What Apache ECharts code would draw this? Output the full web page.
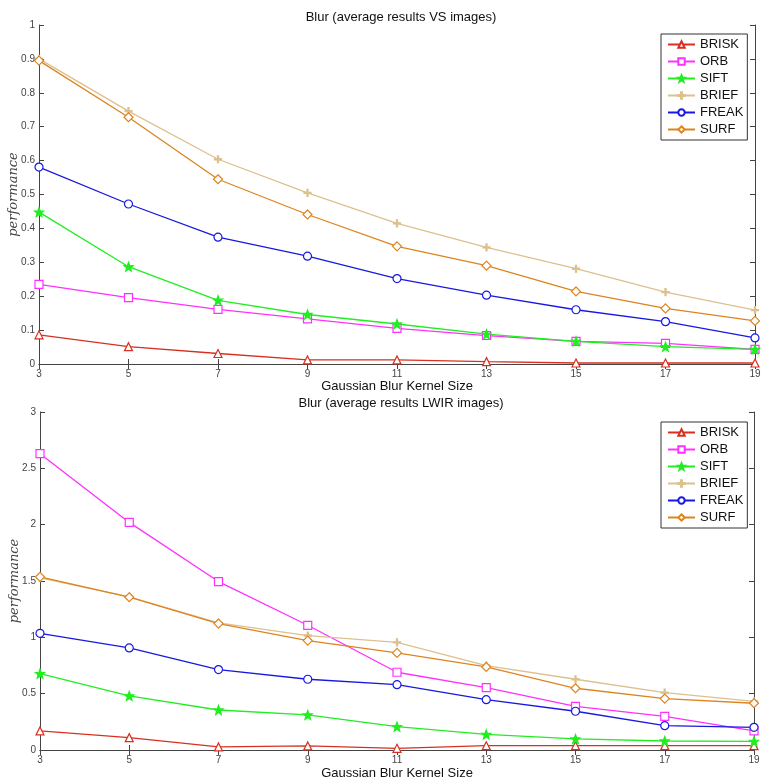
<!DOCTYPE html>
<html><head><meta charset="utf-8">
<script src="https://cdn.jsdelivr.net/npm/echarts@6/dist/echarts.min.js"></script>
<style>html,body{margin:0;padding:0;background:#fff}#c{width:768px;height:784px}</style>
</head><body><div id="c"></div>
<script>
const kernelSizes = ['3','5','7','9','11','13','15','17','19'];
const seriesNames = ['BRISK','ORB','SIFT','BRIEF','FREAK','SURF'];
// Top chart: VS images
const vsBRISK = [0.086,0.051,0.031,0.012,0.012,0.007,0.003,0.003,0.003];
const vsORB   = [0.235,0.196,0.161,0.133,0.105,0.084,0.067,0.061,0.043];
const vsSIFT  = [0.448,0.287,0.188,0.146,0.118,0.088,0.067,0.051,0.043];
const vsBRIEF = [0.900,0.746,0.604,0.505,0.415,0.344,0.281,0.212,0.159];
const vsFREAK = [0.581,0.472,0.374,0.318,0.252,0.203,0.160,0.125,0.077];
const vsSURF  = [0.895,0.728,0.545,0.441,0.347,0.290,0.214,0.164,0.127];
// Bottom chart: LWIR images
const lwBRISK = [0.169,0.110,0.027,0.036,0.015,0.038,0.038,0.038,0.038];
const lwORB   = [2.630,2.020,1.495,1.107,0.690,0.554,0.388,0.299,0.169];
const lwSIFT  = [0.678,0.480,0.355,0.311,0.207,0.139,0.098,0.080,0.077];
const lwBRIEF = [1.528,1.359,1.128,1.016,0.956,0.749,0.628,0.509,0.432];
const lwFREAK = [1.036,0.906,0.714,0.628,0.580,0.447,0.344,0.216,0.201];
const lwSURF  = [1.537,1.356,1.122,0.971,0.862,0.737,0.548,0.456,0.415];
const topTicks = ['0','0.1','0.2','0.3','0.4','0.5','0.6','0.7','0.8','0.9','1'];
const botTicks = ['0','0.5','1','1.5','2','2.5','3'];

const colors = {BRISK:'#d83020',ORB:'#ff30ff',SIFT:'#20ee20',BRIEF:'#dcc08e',FREAK:'#1818e0',SURF:'#dd8420'};
const starPath = 'path://M0,-10 L2.6,-3.2 L9.5,-3.1 L4.1,1.3 L5.9,8.1 L0,4.2 L-5.9,8.1 L-4.1,1.3 L-9.5,-3.1 L-2.6,-3.2 Z';
const plusPath = 'path://M-0.8,-5 L0.8,-5 L0.8,-0.8 L5,-0.8 L5,0.8 L0.8,0.8 L0.8,5 L-0.8,5 L-0.8,0.8 L-5,0.8 L-5,-0.8 L-0.8,-0.8 Z';
const symbols = {
  BRISK:{symbol:'triangle',size:8,fill:'#fff'},
  ORB:{symbol:'rect',size:8,fill:'#fff'},
  SIFT:{symbol:starPath,size:9,fill:colors.SIFT},
  BRIEF:{symbol:plusPath,size:7,fill:colors.BRIEF},
  FREAK:{symbol:'circle',size:8,fill:'#fff'},
  SURF:{symbol:'diamond',size:9,fill:'#fff'}
};
const topData = {BRISK:vsBRISK,ORB:vsORB,SIFT:vsSIFT,BRIEF:vsBRIEF,FREAK:vsFREAK,SURF:vsSURF};
const botData = {BRISK:lwBRISK,ORB:lwORB,SIFT:lwSIFT,BRIEF:lwBRIEF,FREAK:lwFREAK,SURF:lwSURF};

const axisCol = '#444';
const labelStyle = {color:'#444',fontSize:10,fontFamily:'Liberation Sans Narrow, Arial Narrow, Liberation Sans, sans-serif'};
function xAxes(gi){
  return [
    {type:'category',gridIndex:gi,data:kernelSizes,boundaryGap:false,position:'bottom',
     axisLine:{lineStyle:{color:axisCol}},axisTick:{inside:true,length:5,lineStyle:{color:axisCol}},
     axisLabel:Object.assign({margin:5,interval:0},labelStyle),
     name:'Gaussian Blur Kernel Size',nameLocation:'middle',nameGap:gi===0?16:17,nameMoveOverlap:false,
     nameTextStyle:{color:'#111',fontSize:13,fontFamily:'Liberation Sans, Arial, sans-serif'}},
    {type:'category',gridIndex:gi,data:kernelSizes,boundaryGap:false,position:'top',
     axisLine:{lineStyle:{color:axisCol}},axisTick:{inside:true,length:5,lineStyle:{color:axisCol}},
     axisLabel:{show:false}}
  ];
}
function yAxes(gi,max,interval,ticks){
  return [
    {type:'value',gridIndex:gi,min:0,max:max,interval:interval,position:'left',
     axisLine:{show:true,lineStyle:{color:axisCol}},axisTick:{show:true,inside:true,length:5,lineStyle:{color:axisCol}},
     splitLine:{show:false},
     axisLabel:Object.assign({margin:4,formatter:(v)=>ticks[Math.round(v/interval)]},labelStyle),
     name:'performance',nameLocation:'middle',nameGap:19,nameRotate:90,nameMoveOverlap:false,
     nameTextStyle:{color:'#444',fontSize:13,fontStyle:'italic',fontFamily:'DejaVu Serif, Liberation Serif, serif'}},
    {type:'value',gridIndex:gi,min:0,max:max,interval:interval,position:'right',
     axisLine:{show:true,lineStyle:{color:axisCol}},axisTick:{show:true,inside:true,length:5,lineStyle:{color:axisCol}},
     splitLine:{show:false},axisLabel:{show:false}}
  ];
}
function makeSeries(gi,dataMap){
  return seriesNames.map(n=>({
    type:'line',name:n,xAxisIndex:gi*2,yAxisIndex:gi*2,data:dataMap[n],
    symbol:symbols[n].symbol,symbolSize:symbols[n].size,showAllSymbol:true,
    lineStyle:{color:colors[n],width:1.3},
    itemStyle:{color:symbols[n].fill,borderColor:colors[n],borderWidth:1.2},
    animation:false
  }));
}
function legend(top){
  return {orient:'vertical',left:661,top:top,data:seriesNames,
    backgroundColor:'#fff',borderColor:'#333',borderWidth:1,padding:[4,4,4,6],
    itemWidth:27,itemHeight:8,itemGap:4,
    textStyle:{fontSize:13,color:'#111',lineHeight:13,fontFamily:'Liberation Sans, Arial, sans-serif'},
    selectedMode:false};
}
const chart = echarts.init(document.getElementById('c'),null,{renderer:'canvas'});
chart.setOption({
  backgroundColor:'#fff',
  animation:false,
  title:[
    {text:'Blur (average results VS images)',left:396,top:6,textAlign:'center',
     textStyle:{fontSize:13,fontWeight:'normal',color:'#111',fontFamily:'Liberation Sans, Arial, sans-serif'}},
    {text:'Blur (average results LWIR images)',left:396,top:392,textAlign:'center',
     textStyle:{fontSize:13,fontWeight:'normal',color:'#111',fontFamily:'Liberation Sans, Arial, sans-serif'}}
  ],
  grid:[
    {left:39,top:25,right:13,height:339,outerBoundsMode:'none',containLabel:false},
    {left:40,top:412,right:14,height:338,outerBoundsMode:'none',containLabel:false}
  ],
  legend:[legend(34),legend(422)],
  xAxis:[...xAxes(0),...xAxes(1)],
  yAxis:[...yAxes(0,1,0.1,topTicks),...yAxes(1,3,0.5,botTicks)],
  series:[...makeSeries(0,topData),...makeSeries(1,botData)]
});
</script></body></html>
